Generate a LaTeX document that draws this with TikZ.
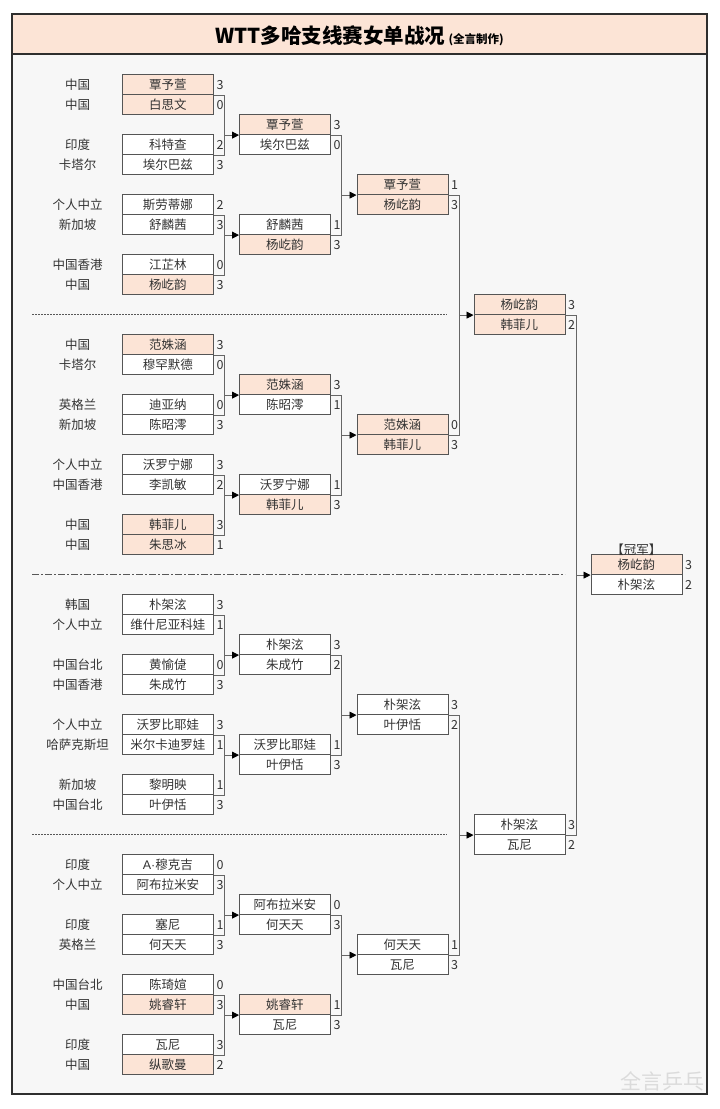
\documentclass[tikz,border=0pt]{standalone}
\usepackage{fontspec}
\usetikzlibrary{arrows.meta}
\newfontfamily\cjk{Noto Sans CJK SC}
\newfontfamily\lat{Liberation Sans}
\definecolor{peach}{HTML}{FCE4D6}
\definecolor{bgc}{HTML}{F7F7F7}
\definecolor{framec}{HTML}{2E2E2E}
\definecolor{boxline}{HTML}{555555}
\definecolor{connline}{HTML}{666666}
\definecolor{txt}{HTML}{333333}
\newcommand\Bracket[3]{%
  \draw[conn] (#1a.south east) -- ++(11,0) coordinate (tmpv) |- (#2a.south east);
  \draw[arr] (tmpv |- #3a.south west) -- (#3a.south west);}
\begin{document}
\begin{tikzpicture}[x=1pt,y=-1pt,
  cell/.style={draw=boxline,line width=0.8pt,minimum width=91pt,minimum height=20pt,
    inner sep=0pt,anchor=north west,font=\cjk\fontsize{12.5}{14}\selectfont,text=txt,
    text height=10.5pt,text depth=1pt},
  score/.style={anchor=west,inner sep=0pt,font=\cjk\fontsize{12.5}{14}\selectfont,text=txt,
    text height=10.5pt,text depth=1pt},
  country/.style={inner sep=0pt,font=\cjk\fontsize{12.5}{14}\selectfont,text=txt,
    text height=10.5pt,text depth=1pt},
  conn/.style={draw=connline,line width=0.8pt},
  arr/.style={draw=connline,line width=0.8pt,-{Triangle[length=7pt,width=7pt,color=black]}},
  sep/.style={draw=framec!80,line width=0.6pt}]
\useasboundingbox (0,0) rectangle (720,1109);
\fill[white] (0,0) rectangle (720,1109);
% frame
\fill[bgc] (12,14) rectangle (707,1094);
\fill[peach] (12,14) rectangle (707,54);
\draw[framec,line width=1.2pt] (12,54) -- (707,54);
\draw[framec,line width=1.5pt] (12,14) rectangle (707,1094);
\node[text=black,inner sep=0pt] (title) at (359.5,36)
  {\cjk\fontsize{20.5}{24}\selectfont\bfseries WTT多哈支线赛女单战况\,\fontsize{11.5}{14}\selectfont (全言制作)};
% separators
\draw[sep,dash pattern=on 2pt off 1pt] (32,314.3) -- (447,314.3);
\draw[sep,dash pattern=on 7pt off 2pt on 2pt off 2pt] (32,574.3) -- (565,574.3);
\draw[sep,dash pattern=on 2pt off 1pt] (32,834.3) -- (447,834.3);
% round 1
\foreach \nm/\r/\ca/\pa/\fa/\sa/\cb/\pb/\fb/\sb in {
 P1/0/中国/覃予萱/peach/3/中国/白思文/peach/0,
 P2/3/印度/科特查/white/2/卡塔尔/埃尔巴兹/white/3,
 P3/6/个人中立/斯劳蒂娜/white/2/新加坡/舒麟茜/white/3,
 P4/9/中国香港/江芷林/white/0/中国/杨屹韵/peach/3,
 P5/13/中国/范姝涵/peach/3/卡塔尔/穆罕默德/white/0,
 P6/16/英格兰/迪亚纳/white/0/新加坡/陈昭澪/white/3,
 P7/19/个人中立/沃罗宁娜/white/3/中国香港/李凯敏/white/2,
 P8/22/中国/韩菲儿/peach/3/中国/朱思冰/peach/1,
 P9/26/韩国/朴架泫/white/3/个人中立/维什尼亚科娃/white/1,
 P10/29/中国台北/黄愉偼/white/0/中国香港/朱成竹/white/3,
 P11/32/个人中立/沃罗比耶娃/white/3/哈萨克斯坦/米尔卡迪罗娃/white/1,
 P12/35/新加坡/黎明映/white/1/中国台北/叶伊恬/white/3,
 P13/39/印度/{{\lat A·}穆克吉}/white/0/个人中立/阿布拉米安/white/3,
 P14/42/印度/塞尼/white/1/英格兰/何天天/white/3,
 P15/45/中国台北/陈琦媗/white/0/中国/姚睿轩/peach/3,
 P16/48/印度/瓦尼/white/3/中国/纵歌曼/peach/2}{
  \node[cell,fill=\fa] (\nm a) at (122,{74.3+20*\r}) {\pa};
  \node[cell,fill=\fb] (\nm b) at (122,{94.3+20*\r}) {\pb};
  \node[score] (\nm sa) at ([xshift=2.5pt]\nm a.east) {\sa};
  \node[score] (\nm sb) at ([xshift=2.5pt]\nm b.east) {\sb};
  \node[country] (\nm ca) at (77.5,{84.3+20*\r}) {\ca};
  \node[country] (\nm cb) at (77.5,{104.3+20*\r}) {\cb};
}
% later rounds
\foreach \nm/\x/\r/\pa/\fa/\sa/\pb/\fb/\sb in {
 Q1/239/2/覃予萱/peach/3/埃尔巴兹/white/0,
 Q2/239/7/舒麟茜/white/1/杨屹韵/peach/3,
 Q3/239/15/范姝涵/peach/3/陈昭澪/white/1,
 Q4/239/20/沃罗宁娜/white/1/韩菲儿/peach/3,
 Q5/239/28/朴架泫/white/3/朱成竹/white/2,
 Q6/239/33/沃罗比耶娃/white/1/叶伊恬/white/3,
 Q7/239/41/阿布拉米安/white/0/何天天/white/3,
 Q8/239/46/姚睿轩/peach/1/瓦尼/white/3,
 S1/356.5/5/覃予萱/peach/1/杨屹韵/peach/3,
 S2/356.5/17/范姝涵/peach/0/韩菲儿/peach/3,
 S3/356.5/31/朴架泫/white/3/叶伊恬/white/2,
 S4/356.5/43/何天天/white/1/瓦尼/white/3,
 F1/473.5/11/杨屹韵/peach/3/韩菲儿/peach/2,
 F2/473.5/37/朴架泫/white/3/瓦尼/white/2,
 W/590.5/24/杨屹韵/peach/3/朴架泫/white/2}{
  \node[cell,fill=\fa] (\nm a) at (\x,{74.3+20*\r}) {\pa};
  \node[cell,fill=\fb] (\nm b) at (\x,{94.3+20*\r}) {\pb};
  \node[score] (\nm sa) at ([xshift=2.5pt]\nm a.east) {\sa};
  \node[score] (\nm sb) at ([xshift=2.5pt]\nm b.east) {\sb};
}
\node[country,anchor=south] (champ) at ([yshift=-1pt]Wa.north) {【冠军】};
% connectors
\Bracket{P1}{P2}{Q1}
\Bracket{P3}{P4}{Q2}
\Bracket{P5}{P6}{Q3}
\Bracket{P7}{P8}{Q4}
\Bracket{P9}{P10}{Q5}
\Bracket{P11}{P12}{Q6}
\Bracket{P13}{P14}{Q7}
\Bracket{P15}{P16}{Q8}
\Bracket{Q1}{Q2}{S1}
\Bracket{Q3}{Q4}{S2}
\Bracket{Q5}{Q6}{S3}
\Bracket{Q7}{Q8}{S4}
\Bracket{S1}{S2}{F1}
\Bracket{S3}{S4}{F2}
\Bracket{F1}{F2}{W}
% watermark
\node[text=black!14,inner sep=0pt,font=\cjk\fontsize{21}{24}\selectfont] (wm) at (662,1081) {全言乒乓};
\end{tikzpicture}
\end{document}
